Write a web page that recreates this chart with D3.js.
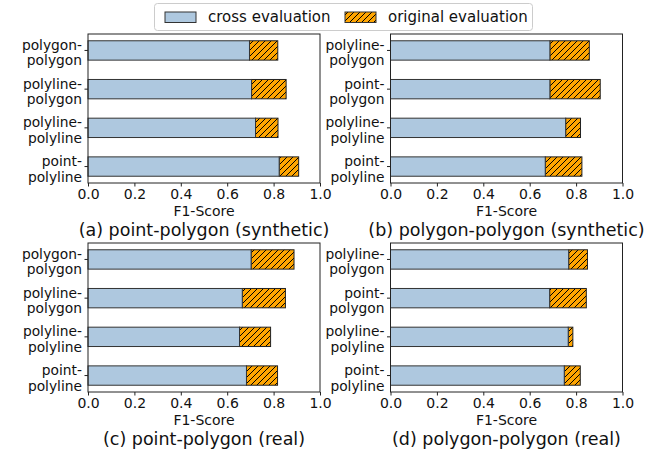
<!DOCTYPE html>
<html>
<head>
<meta charset="utf-8">
<script src="https://cdn.jsdelivr.net/npm/d3@7"></script>
<style>
  body { margin: 0; background: #fff; }
  svg { display: block; font-family: "DejaVu Sans", sans-serif; }
</style>
</head>
<body>
<svg id="chart" width="671" height="449"></svg>
<script>
// ---- data ----
const seriesNames = ["cross evaluation", "original evaluation"];
const xTicks = [0.0, 0.2, 0.4, 0.6, 0.8, 1.0];

const catsA = ["polygon-polygon", "polyline-polygon", "polyline-polyline", "point-polyline"];
const crossA = [0.696, 0.705, 0.722, 0.824];
const origA  = [0.818, 0.854, 0.819, 0.908];

const catsB = ["polyline-polygon", "point-polygon", "polyline-polyline", "point-polyline"];
const crossB = [0.687, 0.687, 0.755, 0.667];
const origB  = [0.857, 0.904, 0.819, 0.825];

const catsC = ["polygon-polygon", "polyline-polygon", "polyline-polyline", "point-polyline"];
const crossC = [0.703, 0.665, 0.653, 0.683];
const origC  = [0.888, 0.851, 0.787, 0.817];

const catsD = ["polyline-polygon", "point-polygon", "polyline-polyline", "point-polyline"];
const crossD = [0.768, 0.686, 0.766, 0.749];
const origD  = [0.849, 0.844, 0.786, 0.818];

const titles = ["(a) point-polygon (synthetic)", "(b) polygon-polygon (synthetic)",
                "(c) point-polygon (real)", "(d) polygon-polygon (real)"];

// ---- drawing ----
const svg = d3.select("#chart");
const blue = "#aec8df";
const orange = "#ffa500";

const defs = svg.append("defs");
const pat = defs.append("pattern").attr("id", "hatch")
  .attr("patternUnits", "userSpaceOnUse").attr("width", 6).attr("height", 6);
pat.append("rect").attr("width", 6).attr("height", 6).attr("fill", orange);
pat.append("path").attr("d", "M0,6 L6,0 M-1.5,1.5 L1.5,-1.5 M4.5,7.5 L7.5,4.5")
  .attr("stroke", "#000").attr("stroke-width", 1);

const panels = [
  {cats: catsA, cross: crossA, orig: origA, x0: 88, x1: 320, y0: 34, y1: 183, lab: 32.5, sub: 53},
  {cats: catsB, cross: crossB, orig: origB, x0: 390.5, x1: 622.5, y0: 34, y1: 183, lab: 32.5, sub: 53},
  {cats: catsC, cross: crossC, orig: origC, x0: 88, x1: 320, y0: 243, y1: 392, lab: 32.5, sub: 52.5},
  {cats: catsD, cross: crossD, orig: origD, x0: 390.5, x1: 622.5, y0: 243, y1: 392, lab: 32.5, sub: 52.5}
];

panels.forEach((p, pi) => {
  const x = d3.scaleLinear().domain([0, 1]).range([p.x0, p.x1]);
  // matplotlib-like: indices 0..3 with 0.5 bar height and 5% margins
  const y = d3.scaleLinear().domain([-0.425, 3.425]).range([p.y0, p.y1]);
  const bh = y(0.5) - y(0);
  const g = svg.append("g");

  const idx = d3.range(p.cats.length);
  // original (hatched) part
  g.selectAll(".orig").data(idx).join("rect")
    .attr("x", i => x(p.cross[i]))
    .attr("y", i => y(i) - bh / 2)
    .attr("width", i => x(p.orig[i]) - x(p.cross[i]))
    .attr("height", bh)
    .attr("fill", "url(#hatch)")
    .attr("stroke", "#222").attr("stroke-width", 1);
  // cross bars
  g.selectAll(".cross").data(idx).join("rect")
    .attr("x", x(0))
    .attr("y", i => y(i) - bh / 2)
    .attr("width", i => x(p.cross[i]) - x(0))
    .attr("height", bh)
    .attr("fill", blue)
    .attr("stroke", "#333").attr("stroke-width", 1);

  // frame
  g.append("rect").attr("x", p.x0).attr("y", p.y0)
    .attr("width", p.x1 - p.x0).attr("height", p.y1 - p.y0)
    .attr("fill", "none").attr("stroke", "#222").attr("stroke-width", 1);

  // x axis
  const xAxis = d3.axisBottom(x).tickValues(xTicks).tickFormat(d3.format(".1f"))
    .tickSizeInner(3.5).tickSizeOuter(0).tickPadding(2.5);
  const xa = g.append("g").attr("transform", `translate(0,${p.y1})`).call(xAxis);
  xa.select(".domain").remove();
  xa.selectAll("text").attr("font-size", 14).attr("fill", "#111")
    .attr("font-family", "DejaVu Sans");
  xa.selectAll("line").attr("stroke", "#222");

  // y ticks
  g.selectAll(".ytick").data(idx).join("line")
    .attr("x1", p.x0 - 3.5).attr("x2", p.x0)
    .attr("y1", i => y(i)).attr("y2", i => y(i))
    .attr("stroke", "#222");
  // y labels (two lines)
  idx.forEach(i => {
    const parts = p.cats[i].split("-");
    const t = g.append("text").attr("text-anchor", "end")
      .attr("font-size", 13.8).attr("fill", "#111");
    t.append("tspan").attr("x", p.x0 - 6).attr("y", y(i) - 0.5).text(parts[0] + "-");
    t.append("tspan").attr("x", p.x0 - 6).attr("y", y(i) + 15).text(parts[1]);
  });

  // axis label
  const cx = (p.x0 + p.x1) / 2;
  g.append("text").attr("x", cx).attr("y", p.y1 + p.lab)
    .attr("text-anchor", "middle").attr("font-size", 14).attr("fill", "#111")
    .text("F1-Score");
  // subtitle
  g.append("text").attr("x", cx).attr("y", p.y1 + p.sub)
    .attr("text-anchor", "middle").attr("font-size", 17.5).attr("fill", "#111")
    .text(titles[pi]);
});

// legend
const lg = svg.append("g");
lg.append("rect").attr("x", 154.5).attr("y", 3.5).attr("width", 378).attr("height", 27)
  .attr("rx", 3).attr("fill", "#fff").attr("stroke", "#ccc");
lg.append("rect").attr("x", 165).attr("y", 12).attr("width", 31).attr("height", 10.5)
  .attr("fill", blue).attr("stroke", "#333");
lg.append("text").attr("x", 208).attr("y", 22).attr("font-size", 15).attr("fill", "#111")
  .text(seriesNames[0]);
lg.append("rect").attr("x", 345).attr("y", 12).attr("width", 31).attr("height", 10.5)
  .attr("fill", "url(#hatch)").attr("stroke", "#333");
lg.append("text").attr("x", 388).attr("y", 22).attr("font-size", 15).attr("fill", "#111")
  .text(seriesNames[1]);
</script>
</body>
</html>
